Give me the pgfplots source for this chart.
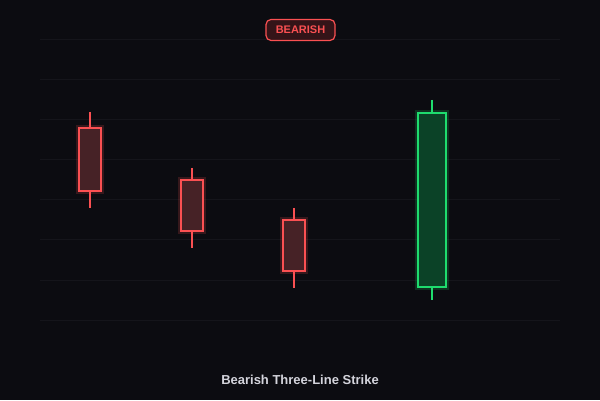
\documentclass[border=0pt]{standalone}
\usepackage{pgfplots}
\pgfplotsset{compat=1.18}
\usepackage{fontspec}
\setmainfont{Liberation Sans}

\definecolor{bg}{RGB}{12,12,17}
\definecolor{gridc}{RGB}{21,21,27}
\definecolor{bear}{RGB}{250,80,82}
\definecolor{bearfill}{RGB}{70,34,38}
\definecolor{bull}{RGB}{30,220,110}
\definecolor{bullfill}{RGB}{11,66,39}
\definecolor{badgefill}{RGB}{52,20,24}
\definecolor{titlec}{RGB}{212,212,220}

\begin{document}
\begin{tikzpicture}
\begin{axis}[
  scale only axis, width=600bp, height=400bp,
  xmin=0, xmax=600, ymin=-10, ymax=90,
  axis lines=none, ticks=none, clip=false,
  axis background/.style={fill=bg},
  gridline/.style={gridc, line width=1bp, forget plot},
  body/.style={line width=2bp, line join=miter},
  wick/.style={line width=2bp},
]
% faint horizontal guides
\addplot[gridline] coordinates {(40,80) (560,80)};
\addplot[gridline] coordinates {(40,70) (560,70)};
\addplot[gridline] coordinates {(40,60) (560,60)};
\addplot[gridline] coordinates {(40,50) (560,50)};
\addplot[gridline] coordinates {(40,40) (560,40)};
\addplot[gridline] coordinates {(40,30) (560,30)};
\addplot[gridline] coordinates {(40,20) (560,20)};
\addplot[gridline] coordinates {(40,10) (560,10)};

% candle 1 (bearish)
\addplot[wick, bear] coordinates {(90,62) (90,57.9)};
\addplot[wick, bear] coordinates {(90,42.2) (90,38.1)};
\addplot[body, draw=bear, fill=bearfill, preaction={draw=bear, line width=6bp, draw opacity=0.18}]
  coordinates {(79.3,57.9) (100.7,57.9) (100.7,42.2) (79.3,42.2)} -- cycle;

% candle 2 (bearish)
\addplot[wick, bear] coordinates {(192,48) (192,44.9)};
\addplot[wick, bear] coordinates {(192,32.2) (192,28.1)};
\addplot[body, draw=bear, fill=bearfill, preaction={draw=bear, line width=6bp, draw opacity=0.18}]
  coordinates {(181.3,44.9) (202.7,44.9) (202.7,32.2) (181.3,32.2)} -- cycle;

% candle 3 (bearish)
\addplot[wick, bear] coordinates {(294,38) (294,34.9)};
\addplot[wick, bear] coordinates {(294,22.2) (294,18.1)};
\addplot[body, draw=bear, fill=bearfill, preaction={draw=bear, line width=6bp, draw opacity=0.18}]
  coordinates {(283.3,34.9) (304.7,34.9) (304.7,22.2) (283.3,22.2)} -- cycle;

% candle 4 (bullish strike)
\addplot[wick, bull] coordinates {(432,65) (432,61.8)};
\addplot[wick, bull] coordinates {(432,18.2) (432,15)};
\addplot[body, draw=bull, fill=bullfill, preaction={draw=bull, line width=6bp, draw opacity=0.18}]
  coordinates {(418.3,61.8) (445.7,61.8) (445.7,18.2) (418.3,18.2)} -- cycle;

% badge and title
\node[draw=bear, line width=1.2bp, fill=badgefill, rounded corners=5bp,
      minimum width=69bp, minimum height=21bp, inner sep=0pt,
      text=bear, font=\fontsize{11bp}{12bp}\selectfont\bfseries]
  at (axis cs:300.5,82.5) {BEARISH};
\node[text=titlec, font=\fontsize{13bp}{15bp}\selectfont\bfseries]
  at (axis cs:300,-5) {Bearish Three-Line Strike};
\end{axis}
\end{tikzpicture}
\end{document}
